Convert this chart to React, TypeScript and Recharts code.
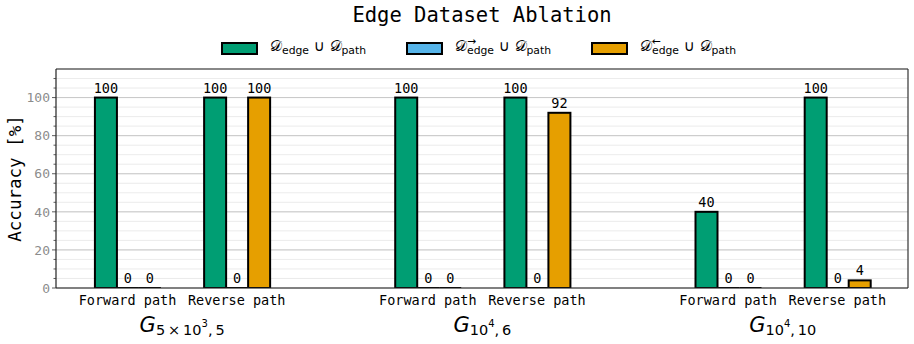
import React from 'react';
import { ComposedChart, Bar, XAxis, YAxis, CartesianGrid, ReferenceLine, LabelList } from 'recharts';

const categories = ['Forward path', 'Reverse path', 'Forward path', 'Reverse path', 'Forward path', 'Reverse path'];
const positions = [0, 0.4, 1.1, 1.5, 2.2, 2.6];
const edgePathValues = [100, 100, 100, 100, 40, 100];
const fwdEdgePathValues = [0, 0, 0, 0, 0, 0];
const bwdEdgePathValues = [0, 100, 0, 92, 0, 4];
const groupPositions = [0.2, 1.3, 2.4];
const groupLabels = [
  { sub: '5\u2009×\u200910', sup: '3', tail: ',\u20095' },
  { sub: '10', sup: '4', tail: ',\u20096' },
  { sub: '10', sup: '4', tail: ',\u200910' },
];
const yTicks = [0, 5, 10, 15, 20, 25, 30, 35, 40, 45, 50, 55, 60, 65, 70, 75, 80, 85, 90, 95, 100, 105, 110];
const yMajorTicks = [0, 20, 40, 60, 80, 100];
const xDomain = [-0.262, 2.859];
const yDomain = [0, 115];

const seriesKeys = ['edge', 'fwd', 'bwd'];
const seriesColors = ['#009E73', '#56B4E9', '#E69F00'];
const seriesArrows = ['', '→', '←'];

const data = positions.map((p, i) => ({
  pos: p,
  cat: categories[i],
  edge: edgePathValues[i],
  fwd: fwdEdgePathValues[i],
  bwd: bwdEdgePathValues[i],
}));

const MONO = '"DejaVu Sans Mono", monospace';
const SANS = '"DejaVu Sans", sans-serif';

const BarShape = (props: any) => {
  const { x, y, width, height, fill } = props;
  if (!height || height <= 0.01) {
    return <line x1={x} x2={x + width} y1={y} y2={y} stroke="#000" strokeWidth={2} />;
  }
  return <rect x={x} y={y} width={width} height={height} fill={fill} stroke="#000" strokeWidth={2} />;
};

const YTick = (props: any) => {
  const { x, y, payload } = props;
  const v = payload.value;
  const major = v % 20 === 0;
  return (
    <g>
      <line x1={x} x2={x - (major ? 4 : 2.5)} y1={y} y2={y} stroke="#333" strokeWidth={0.8} />
      {major && (
        <text x={x - 6} y={y} dy="0.36em" textAnchor="end" fontFamily={MONO} fontSize={13} fill="#8c8c8c">
          {v}
        </text>
      )}
    </g>
  );
};

const GroupTick = (props: any) => {
  const { x, y, payload } = props;
  const idx = groupPositions.indexOf(payload.value);
  const g = groupLabels[idx];
  if (!g) return null;
  return (
    <text x={x} y={y + 20} textAnchor="middle" fontFamily={SANS} fill="#000">
      <tspan fontStyle="italic" fontSize={21}>G</tspan>
      <tspan fontSize={14.5} dy={3}>{g.sub}</tspan>
      <tspan fontSize={10} dy={-8}>{g.sup}</tspan>
      <tspan fontSize={14.5} dy={8}>{g.tail}</tspan>
    </text>
  );
};

const CalD = () => <span style={{ fontFamily: SANS }}>𝒟</span>;

const Sub = ({ text, arrow }: { text: string; arrow?: string }) => (
  <span
    style={{
      position: 'relative',
      display: 'inline-block',
      fontSize: '0.72em',
      verticalAlign: '-0.35em',
      lineHeight: 1,
    }}
  >
    {text}
    {arrow ? (
      <span style={{ position: 'absolute', left: 0, top: '-0.85em', lineHeight: 1 }}>{arrow}</span>
    ) : null}
  </span>
);

const LegendLabel = ({ arrow }: { arrow: string }) => (
  <span style={{ fontFamily: SANS, fontSize: 15, whiteSpace: 'nowrap', color: '#000', lineHeight: 1 }}>
    <CalD />
    <Sub text="edge" arrow={arrow} />
    <span> ∪ </span>
    <CalD />
    <Sub text="path" />
  </span>
);

const legendLefts = [221, 406, 591];

export default function App() {
  return (
    <div style={{ position: 'absolute', left: 0, top: 0, width: 914, height: 344, background: '#fff' }}>
      <div
        style={{
          position: 'absolute',
          left: 56,
          width: 852,
          top: 4,
          textAlign: 'center',
          fontFamily: MONO,
          fontSize: 20.5,
          lineHeight: '22px',
          color: '#000',
        }}
      >
        Edge Dataset Ablation
      </div>
      {seriesKeys.map((k, i) => (
        <div key={k} style={{ position: 'absolute', left: legendLefts[i], top: 36, height: 24, display: 'flex', alignItems: 'center' }}>
          <div
            style={{
              width: 37,
              height: 13,
              boxSizing: 'border-box',
              border: '2px solid #000',
              background: seriesColors[i],
              marginRight: 12,
            }}
          />
          <LegendLabel arrow={seriesArrows[i]} />
        </div>
      ))}
      <ComposedChart
        width={914}
        height={344}
        data={data}
        margin={{ top: 69, right: 6, bottom: 0, left: 0 }}
        barGap={0}
        barSize={22}
      >
        <CartesianGrid vertical={false} stroke="#e6e6e6" strokeWidth={0.8} yAxisId="left" />
        <CartesianGrid vertical={false} stroke="#c8c8c8" strokeWidth={1} yAxisId="major" />
        <XAxis
          dataKey="pos"
          type="number"
          domain={xDomain}
          allowDataOverflow
          ticks={positions}
          interval={0}
          tickFormatter={(v: number) => categories[positions.indexOf(v)] ?? ''}
          tickLine={false}
          tickSize={0}
          tickMargin={7}
          height={24}
          axisLine={{ stroke: '#222', strokeWidth: 1.2 }}
          tick={{ fontFamily: MONO, fontSize: 13.5, fill: '#000' }}
        />
        <XAxis
          xAxisId="group"
          dataKey="pos"
          type="number"
          domain={xDomain}
          allowDataOverflow
          ticks={groupPositions}
          interval={0}
          axisLine={false}
          tickLine={false}
          tickSize={0}
          tickMargin={0}
          height={32}
          tick={<GroupTick />}
        />
        <YAxis
          yAxisId="left"
          type="number"
          domain={yDomain}
          allowDataOverflow
          ticks={yTicks}
          interval={0}
          width={56}
          tickLine={false}
          tickSize={0}
          tickMargin={0}
          axisLine={{ stroke: '#222', strokeWidth: 1.2 }}
          tick={<YTick />}
          label={{
            value: 'Accuracy [%]',
            angle: -90,
            position: 'insideLeft',
            offset: 15,
            style: { textAnchor: 'middle', fontFamily: MONO, fontSize: 17.5, fill: '#000' },
          }}
        />
        <YAxis yAxisId="major" hide type="number" domain={yDomain} allowDataOverflow ticks={yMajorTicks} interval={0} />
        {seriesKeys.map((k, i) => (
          <Bar key={k} dataKey={k} yAxisId="left" fill={seriesColors[i]} isAnimationActive={false} shape={<BarShape />}>
            <LabelList dataKey={k} position="top" offset={5} fill="#000" fontFamily={MONO} fontSize={13.5} />
          </Bar>
        ))}
        <ReferenceLine yAxisId="left" y={yDomain[1]} stroke="#333" strokeWidth={1.2} />
        <ReferenceLine yAxisId="left" x={xDomain[1]} stroke="#333" strokeWidth={1.2} />
      </ComposedChart>
    </div>
  );
}
